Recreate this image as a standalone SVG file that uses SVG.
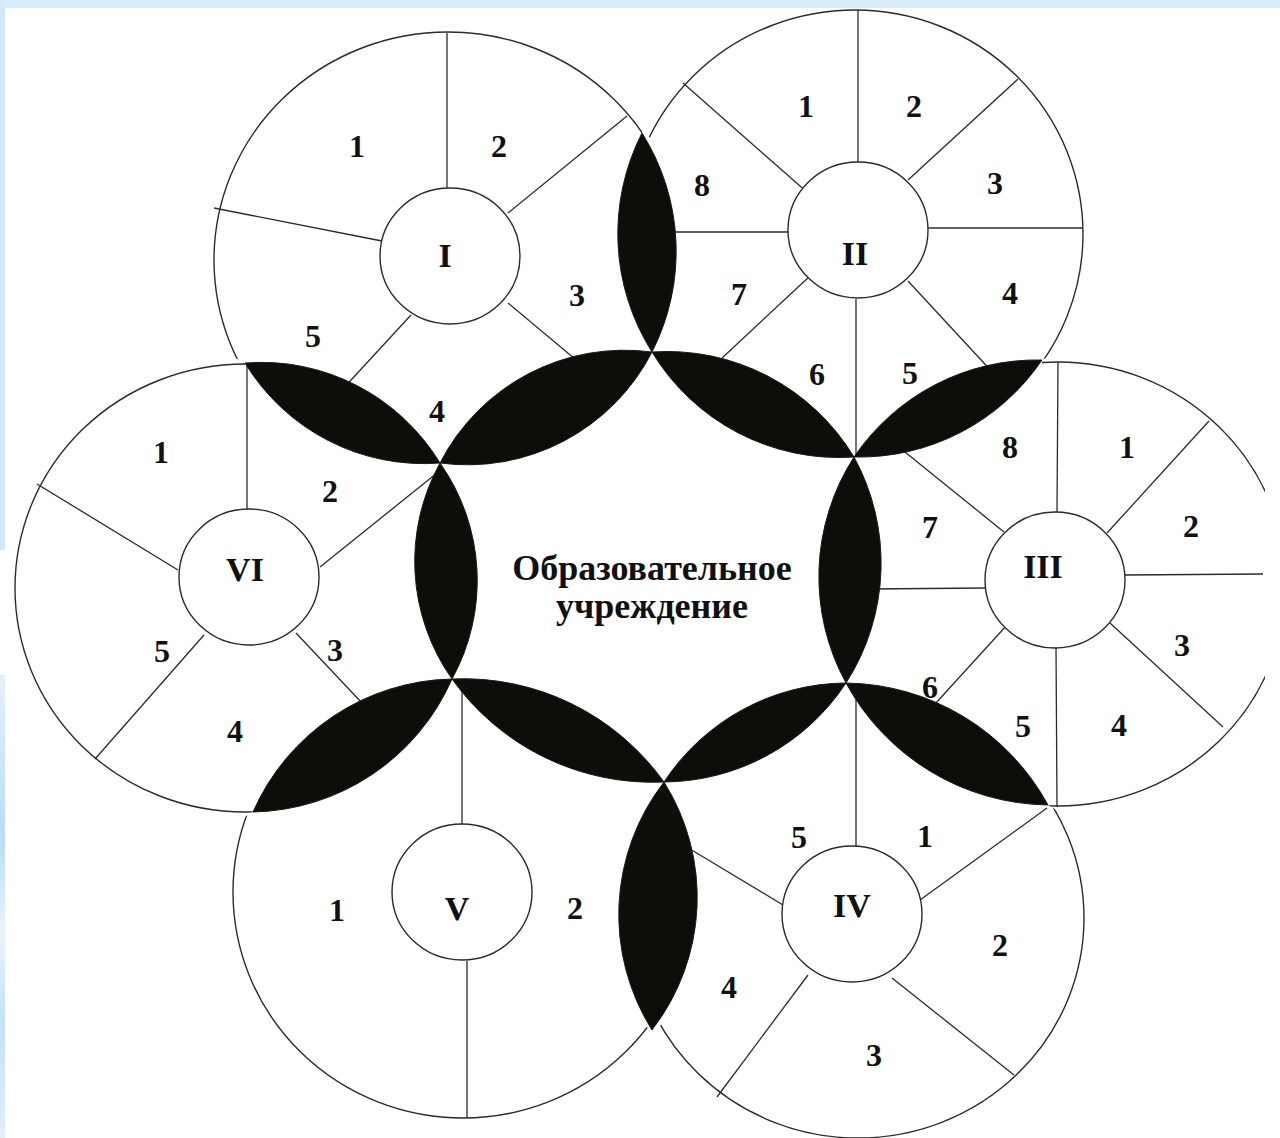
<svg xmlns="http://www.w3.org/2000/svg" width="1280" height="1138" viewBox="0 0 1280 1138">
  <defs>
    <style>
      .ring{fill:none;stroke:#2b2b2b;stroke-width:1.4}
      .hub{fill:#fff;stroke:#2b2b2b;stroke-width:1.4}
      .ray{stroke:#2b2b2b;stroke-width:1.3;fill:none}
      .lens{fill:#0c0e09;stroke:#1a1c17;stroke-width:1}
      .num{font-family:"Liberation Serif","Times New Roman",serif;font-weight:bold;font-size:32px;fill:#111;text-anchor:middle}
      .rom{font-family:"Liberation Serif","Times New Roman",serif;font-weight:bold;font-size:34px;fill:#111;text-anchor:middle}
      .title{font-family:"Liberation Serif","Times New Roman",serif;font-weight:bold;font-size:36px;fill:#111;text-anchor:middle}
    </style>
    <linearGradient id="sideBlue" x1="0" y1="0" x2="0" y2="1">
      <stop offset="0" stop-color="#e4f1fc"/>
      <stop offset="0.35" stop-color="#b9dbf6"/>
      <stop offset="0.55" stop-color="#e9f4fd"/>
      <stop offset="0.75" stop-color="#c4e0f8"/>
      <stop offset="1" stop-color="#e2effb"/>
    </linearGradient>
    <clipPath id="cI"><polygon points="245,363 642,133 640,-400 -600,-400 -600,-67"/></clipPath>
    <clipPath id="cII"><polygon points="642,133 1042,360 1658,31 1658,-400 640,-400"/></clipPath>
    <clipPath id="cIII"><polygon points="1042,360 1048,805 1265,934 1265,241"/></clipPath>
    <clipPath id="cIV"><polygon points="1048,805 652,1030 653,1430 1650,1430 1650,1162"/></clipPath>
    <clipPath id="cV"><polygon points="652,1030 253,812 -600,1330 -600,1430 653,1430"/></clipPath>
    <clipPath id="cVI"><polygon points="253,812 245,363 -600,-67 -600,1330"/></clipPath>
  </defs>

  <rect x="0" y="0" width="1280" height="1138" fill="#ffffff"/>
  <rect x="0" y="0" width="1280" height="8" fill="#d9ecfb"/>
  <rect x="0" y="0" width="5" height="550" fill="#d3e8fb"/>
  <rect x="0" y="675" width="5" height="463" fill="url(#sideBlue)"/>

  <g id="circle-I">
    <ellipse class="ring" cx="448" cy="260" rx="234" ry="228" clip-path="url(#cI)"/>
    <line class="ray" x1="447" y1="33" x2="447" y2="188"/>
    <line class="ray" x1="508" y1="213" x2="627" y2="116"/>
    <line class="ray" x1="214" y1="208" x2="382" y2="241"/>
    <line class="ray" x1="411" y1="315" x2="340" y2="392"/>
    <line class="ray" x1="508" y1="303" x2="575" y2="359"/>
    <ellipse class="hub" cx="450" cy="256" rx="70" ry="68"/>
    <text class="rom" x="445" y="267">I</text>
    <text class="num" x="357" y="157">1</text>
    <text class="num" x="499" y="157">2</text>
    <text class="num" x="577" y="306">3</text>
    <text class="num" x="437" y="422">4</text>
    <text class="num" x="313" y="347">5</text>
  </g>

  <g id="circle-II">
    <ellipse class="ring" cx="855" cy="234" rx="228" ry="224" clip-path="url(#cII)"/>
    <line class="ray" x1="858" y1="10" x2="858" y2="165"/>
    <line class="ray" x1="908" y1="180" x2="1018" y2="79"/>
    <line class="ray" x1="928" y1="228" x2="1083" y2="228"/>
    <line class="ray" x1="908" y1="281" x2="995" y2="375"/>
    <line class="ray" x1="856" y1="299" x2="856" y2="457"/>
    <line class="ray" x1="810" y1="276" x2="722" y2="358"/>
    <line class="ray" x1="788" y1="232" x2="665" y2="232"/>
    <line class="ray" x1="808" y1="193" x2="683" y2="83"/>
    <ellipse class="hub" cx="858" cy="230" rx="70" ry="68"/>
    <text class="rom" x="855" y="265">II</text>
    <text class="num" x="806" y="117">1</text>
    <text class="num" x="914" y="117">2</text>
    <text class="num" x="995" y="194">3</text>
    <text class="num" x="1010" y="304">4</text>
    <text class="num" x="910" y="384">5</text>
    <text class="num" x="817" y="385">6</text>
    <text class="num" x="739" y="305">7</text>
    <text class="num" x="702" y="196">8</text>
  </g>

  <g id="circle-III">
    <ellipse class="ring" cx="1058" cy="584" rx="228" ry="222" clip-path="url(#cIII)"/>
    <line class="ray" x1="1058" y1="362" x2="1057" y2="512"/>
    <line class="ray" x1="1107" y1="533" x2="1209" y2="421"/>
    <line class="ray" x1="1125" y1="575" x2="1263" y2="574"/>
    <line class="ray" x1="1110" y1="623" x2="1223" y2="727"/>
    <line class="ray" x1="1056" y1="646" x2="1057" y2="807"/>
    <line class="ray" x1="1007" y1="625" x2="925" y2="715"/>
    <line class="ray" x1="985" y1="588" x2="870" y2="589"/>
    <line class="ray" x1="1004" y1="532" x2="900" y2="448"/>
    <ellipse class="hub" cx="1055" cy="580" rx="70" ry="68"/>
    <text class="rom" x="1043" y="578">III</text>
    <text class="num" x="1127" y="458">1</text>
    <text class="num" x="1191" y="537">2</text>
    <text class="num" x="1182" y="656">3</text>
    <text class="num" x="1119" y="736">4</text>
    <text class="num" x="1023" y="737">5</text>
    <text class="num" x="930" y="698">6</text>
    <text class="num" x="930" y="538">7</text>
    <text class="num" x="1010" y="458">8</text>
  </g>

  <g id="circle-IV">
    <ellipse class="ring" cx="858" cy="918" rx="226" ry="220" clip-path="url(#cIV)"/>
    <line class="ray" x1="856" y1="692" x2="856" y2="848"/>
    <line class="ray" x1="920" y1="900" x2="1047" y2="808"/>
    <line class="ray" x1="892" y1="978" x2="1014" y2="1075"/>
    <line class="ray" x1="808" y1="975" x2="717" y2="1097"/>
    <line class="ray" x1="783" y1="905" x2="690" y2="849"/>
    <ellipse class="hub" cx="852" cy="914" rx="70" ry="68"/>
    <text class="rom" x="852" y="917">IV</text>
    <text class="num" x="925" y="847">1</text>
    <text class="num" x="1000" y="956">2</text>
    <text class="num" x="874" y="1066">3</text>
    <text class="num" x="729" y="998">4</text>
    <text class="num" x="799" y="848">5</text>
  </g>

  <g id="circle-V">
    <ellipse class="ring" cx="463" cy="892" rx="230" ry="226" clip-path="url(#cV)"/>
    <line class="ray" x1="462" y1="688" x2="462" y2="826"/>
    <line class="ray" x1="467" y1="961" x2="467" y2="1118"/>
    <ellipse class="hub" cx="462" cy="892" rx="70" ry="68"/>
    <text class="rom" x="457" y="920">V</text>
    <text class="num" x="337" y="921">1</text>
    <text class="num" x="575" y="919">2</text>
  </g>

  <g id="circle-VI">
    <ellipse class="ring" cx="245" cy="588" rx="230" ry="224" clip-path="url(#cVI)"/>
    <line class="ray" x1="247" y1="363" x2="247" y2="509"/>
    <line class="ray" x1="320" y1="567" x2="437" y2="473"/>
    <line class="ray" x1="296" y1="633" x2="362" y2="703"/>
    <line class="ray" x1="204" y1="635" x2="95" y2="759"/>
    <line class="ray" x1="178" y1="570" x2="37" y2="484"/>
    <ellipse class="hub" cx="249" cy="577" rx="70" ry="68"/>
    <text class="rom" x="245" y="581">VI</text>
    <text class="num" x="161" y="463">1</text>
    <text class="num" x="330" y="502">2</text>
    <text class="num" x="335" y="661">3</text>
    <text class="num" x="235" y="742">4</text>
    <text class="num" x="162" y="662">5</text>
  </g>

  <g id="connectors">
    <path class="lens" d="M245,363 A209,209 0 0 1 440,463 A209,209 0 0 1 245,363 Z"/>
    <path class="lens" d="M642,133 A221.7,221.7 0 0 1 652,352 A221.7,221.7 0 0 1 642,133 Z"/>
    <path class="lens" d="M1042,360 A220.7,220.7 0 0 1 854,457 A220.7,220.7 0 0 1 1042,360 Z"/>
    <path class="lens" d="M1048,805 A233.5,233.5 0 0 1 846,683 A233.5,233.5 0 0 1 1048,805 Z"/>
    <path class="lens" d="M652,1030 A217,217 0 0 1 664,782 A217,217 0 0 1 652,1030 Z"/>
    <path class="lens" d="M253,812 A222,222 0 0 1 452,679 A222,222 0 0 1 253,812 Z"/>
    <path class="lens" d="M440,463 A207.4,207.4 0 0 1 652,352 A207.4,207.4 0 0 1 440,463 Z"/>
    <path class="lens" d="M652,352 A218.5,218.5 0 0 1 854,457 A218.5,218.5 0 0 1 652,352 Z"/>
    <path class="lens" d="M854,457 A221.7,221.7 0 0 1 846,683 A221.7,221.7 0 0 1 854,457 Z"/>
    <path class="lens" d="M846,683 A219.4,219.4 0 0 1 664,782 A219.4,219.4 0 0 1 846,683 Z"/>
    <path class="lens" d="M664,782 A246.5,246.5 0 0 1 452,679 A246.5,246.5 0 0 1 664,782 Z"/>
    <path class="lens" d="M452,679 A204.2,204.2 0 0 1 440,463 A204.2,204.2 0 0 1 452,679 Z"/>
  </g>

  <g id="center">
    <text class="title" x="652" y="580">Образовательное</text>
    <text class="title" x="652" y="618">учреждение</text>
  </g>
</svg>
